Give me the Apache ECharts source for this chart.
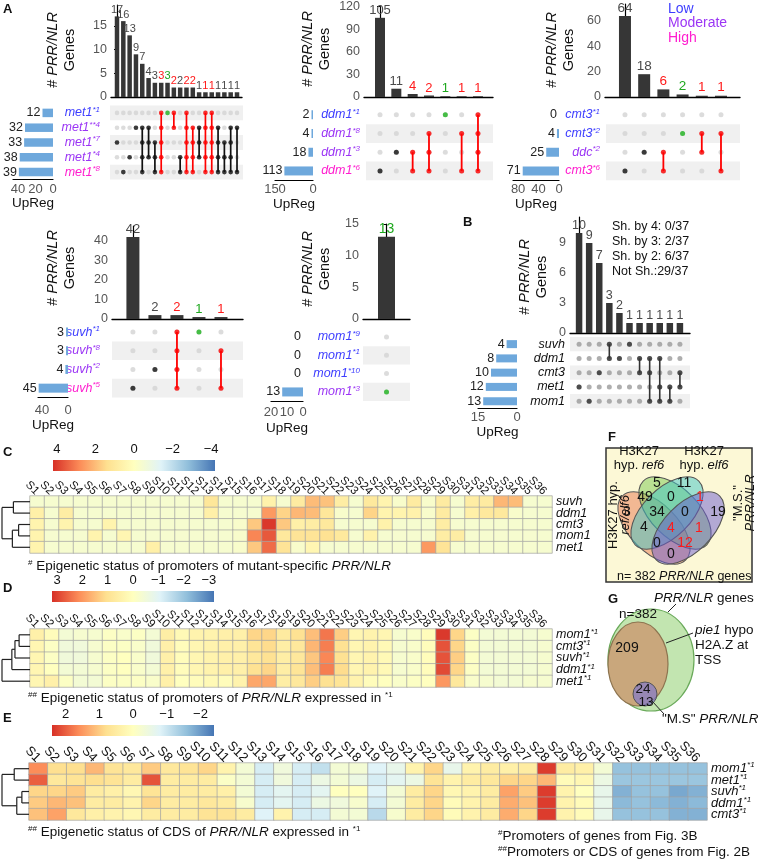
<!DOCTYPE html>
<html><head><meta charset="utf-8">
<script src="https://cdn.jsdelivr.net/npm/echarts@6/dist/echarts.min.js"></script>
<style>html,body{margin:0;padding:0;background:#fff}#c{width:758px;height:861px}</style>
</head><body><div id="c"></div>
<script>
const FONT = '"Liberation Sans", Arial, sans-serif';

// ---------------- DATA: Panel A (met1) ----------------
const a1Sets = ['met1*1','met1**4','met1*7','met1*4','met1*8'];
const a1Levels = ['low','mod','mod','mod','high'];
const a1SetSizes = [12,32,33,38,39];
const a1Counts = [17,16,13,9,7,4,3,3,3,2,2,2,2,1,1,1,1,1,1,1];
const a1Members = [[2],[4],[3],[1],[1,2,3,4],[1,2,3],[2,3,4],[0,1,2,3,4],[0],[0,1],[3,4],[0,1,2,3,4],[1,2,3,4],[1,2,3],[0,1,2,3,4],[0,1,2,3,4],[1,2,3,4],[2,3,4],[1,2,3,4],[1,4]];
const a1Types = ['k','k','k','k','k','k','k','r','g','r','k','r','r','k','r','r','k','k','k','k'];
const a1YTicks = [0,5,10,15];
const a1SetTicks = [0,20,40];
// ---------------- DATA: Panel A (ddm1) ----------------
const a2Sets = ['ddm1*1','ddm1*8','ddm1*3','ddm1*6'];
const a2Levels = ['low','mod','mod','high'];
const a2SetSizes = [2,4,18,113];
const a2Counts = [105,11,4,2,1,1,1];
const a2Members = [[3],[2],[2,3],[1,2,3],[0],[1,3],[0,1,2,3]];
const a2Types = ['k','k','r','r','g','r','r'];
const a2YTicks = [0,30,60,90,120];
const a2SetTicks = [0,150];
// ---------------- DATA: Panel A (cmt3) ----------------
const a3Sets = ['cmt3*1','cmt3*2','ddc*2','cmt3*6'];
const a3Levels = ['low','low','mod','high'];
const a3SetSizes = [0,4,25,71];
const a3Counts = [64,18,6,2,1,1];
const a3Members = [[3],[2],[2,3],[1],[1,2],[1,3]];
const a3Types = ['k','k','r','g','r','r'];
const a3YTicks = [0,20,40,60];
const a3SetTicks = [0,40,80];
// ---------------- DATA: Panel A (suvh) ----------------
const a4Sets = ['suvh*1','suvh*8','suvh*2','suvh*5'];
const a4Levels = ['low','mod','mod','high'];
const a4SetSizes = [3,3,4,45];
const a4Counts = [42,2,2,1,1];
const a4Members = [[3],[2],[0,1,2,3],[0],[1,3]];
const a4Types = ['k','k','r','g','r'];
const a4YTicks = [0,10,20,30,40];
const a4SetTicks = [0,40];
// ---------------- DATA: Panel A (mom1) ----------------
const a5Sets = ['mom1*9','mom1*1','mom1*10','mom1*3'];
const a5Levels = ['low','low','low','mod'];
const a5SetSizes = [0,0,0,13];
const a5Counts = [13];
const a5Members = [[3]];
const a5Types = ['g'];
const a5YTicks = [0,5,10,15];
const a5SetTicks = [0,10,20];
// ---------------- DATA: Panel B ----------------
const bSets = ['suvh','ddm1','cmt3','met1','mom1'];
const bLevels = ['blk','blk','blk','blk','blk'];
const bSetSizes = [4,8,10,12,13];
const bCounts = [10,9,7,3,2,1,1,1,1,1,1];
const bMembers = [[3],[4],[2],[0,1],[1],[0],[1,2],[1,2,4],[1,3,4],[3,4],[2,3]];
const bTypes = ['d','d','d','d','d','d','d','d','d','d','d'];
const bYTicks = [0,3,6,9];
const bSetTicks = [0,15];
const bNotes = ['Sh. by 4: 0/37','Sh. by 3: 2/37','Sh. by 2: 6/37','Not Sh.:29/37'];

// ---------------- DATA: Heatmaps ----------------
const sLabels = ['S1','S2','S3','S4','S5','S6','S7','S8','S9','S10','S11','S12','S13','S14','S15','S16','S17','S18','S19','S20','S21','S22','S23','S24','S25','S26','S27','S28','S29','S30','S31','S32','S33','S34','S35','S36'];
const cRows = ['suvh','ddm1','cmt3','mom1','met1'];
const cVals = [
 [-0.4,-0.4,-0.4,-0.4,-0.4,-0.4,-0.4,-0.4,-0.4,-0.4,-0.4,-0.4,1.1,-0.4,-0.4,-0.4,0.6,-0.4,0.9,2.0,1.9,0.8,-0.4,1.0,0.5,-0.3,0.9,-0.3,0.9,-0.4,0.8,0.9,2.1,2.0,-0.4,-0.4],
 [0.7,-0.4,0.8,-0.4,-0.4,-0.4,-0.4,-0.4,-0.4,-0.4,-0.4,-0.4,0.7,-0.4,-0.4,-0.4,2.6,1.6,2.1,2.0,1.1,-0.3,-0.4,1.6,0.5,0.5,0.6,-0.3,0.9,-0.4,0.7,1.0,1.0,-0.3,-0.4,-0.4],
 [0.5,-0.4,0.5,-0.4,-0.4,0.5,-0.4,-0.4,-0.4,-0.4,-0.4,-0.4,-0.4,-0.4,-0.3,1.8,4.1,1.8,0.7,0.8,1.0,-0.4,-0.4,-0.4,0.6,-0.4,-0.4,-0.4,0.8,-0.4,-0.4,-0.4,-0.4,-0.4,-0.4,-0.4],
 [0.5,-0.4,-0.4,-0.4,0.5,-0.4,0.4,-0.4,-0.4,-0.4,-0.4,-0.4,-0.4,-0.4,-0.3,2.9,3.6,1.0,1.2,1.2,1.3,1.0,-0.4,0.6,-0.4,-0.4,-0.4,-0.4,0.8,0.8,-0.4,-0.4,-0.4,-0.4,-0.4,-0.4],
 [0.5,-0.4,-0.4,-0.4,-0.4,-0.4,-0.4,-0.4,0.7,-0.4,-0.4,-0.4,-0.4,-0.4,-0.3,1.8,3.3,1.2,-0.3,0.4,-0.4,-0.4,-0.4,-0.4,-0.4,-0.4,-0.4,2.6,1.2,-0.4,-0.4,-0.4,-0.4,-0.4,-0.4,-0.4]
];
const cTicks = [4,2,0,-2,-4];
const dRows = ['mom1*1','cmt3*1','suvh*1','ddm1*1','met1*1'];
const dVals = [
 [0.5,0.1,-0.4,-0.3,-0.3,-0.1,-0.2,-0.1,-0.4,0.6,0.2,0.4,0.4,0.5,0.5,1.2,1.2,0.7,1.0,1.5,2.4,1.3,0.3,0.4,0.3,-0.3,-0.2,0.1,3.1,1.2,-0.1,-0.4,-0.4,-0.4,-0.4,-0.3],
 [0.3,-0.1,-0.5,-0.5,-0.3,-0.1,-0.1,-0.2,-0.5,0.5,0.1,0.3,0.4,0.5,0.5,0.9,1.1,0.6,0.8,1.6,2.3,1.0,0.3,0.4,0.2,-0.3,-0.2,0.1,2.8,1.2,-0.1,-0.4,-0.4,-0.4,-0.4,-0.3],
 [0.3,-0.1,-0.5,-0.5,-0.3,-0.1,0.0,-0.2,-0.5,0.5,0.1,0.3,0.4,0.5,0.5,0.8,1.0,0.6,0.8,1.4,2.2,1.0,0.3,0.4,0.2,-0.3,-0.2,0.1,2.8,1.3,-0.1,-0.4,-0.4,-0.4,-0.4,-0.3],
 [0.3,0.0,-0.4,-0.4,-0.3,-0.1,0.0,-0.2,-0.4,0.5,0.1,0.3,0.4,0.5,0.5,1.0,1.2,0.6,0.9,1.5,2.3,1.1,0.3,0.4,0.2,-0.3,-0.2,0.1,2.9,1.2,-0.1,-0.4,-0.4,-0.4,-0.4,-0.3],
 [0.3,0.5,-0.1,-0.4,-0.4,-0.1,-0.1,-0.1,-0.2,0.5,0.0,0.1,0.2,0.1,0.4,1.8,1.8,0.6,0.8,1.3,1.0,0.9,0.4,0.1,0.0,-0.2,-0.1,0.0,2.0,0.8,-0.2,-0.3,-0.4,-0.4,-0.3,-0.3]
];
const dTicks = [3,2,1,0,-1,-2,-3];
const eRows = ['mom1*1','met1*1','suvh*1','ddm1*1','cmt3*1'];
const eVals = [
 [1.6,0.8,0.8,1.2,0.7,0.6,1.0,0.6,0.7,0.9,0.3,-0.3,-0.9,-0.4,-0.9,-1.1,-0.3,-0.3,-0.8,-0.6,0.3,0.9,-0.6,0.3,0.5,0.4,0.5,2.3,0.5,0.4,-0.3,-1.55,-1.55,-1.55,-1.55,-1.55],
 [2.0,0.6,0.7,0.8,0.7,0.5,2.1,0.5,0.5,0.5,-0.1,-0.3,-0.9,-0.4,-0.9,-0.5,-0.3,-0.5,-0.9,-0.7,-0.5,0.7,0.3,0.5,0.6,0.9,0.9,1.2,0.1,0.2,-0.5,-1.5,-1.5,-1.5,-1.5,-1.5],
 [0.9,0.9,1.0,0.5,0.4,0.2,0.7,0.5,0.5,0.5,0.4,-0.3,-0.9,-0.7,-0.9,-0.7,0.0,0.0,-0.8,-0.3,0.5,0.9,0.2,0.3,0.5,1.4,1.0,2.3,0.3,0.0,-0.6,-1.75,-1.55,-1.55,-1.85,-1.75],
 [1.0,1.2,1.1,0.5,0.5,0.3,0.9,0.5,0.5,0.6,0.5,-0.2,-0.9,-0.7,-0.9,-0.5,-0.4,-0.2,-0.9,-0.3,0.5,0.9,0.1,0.3,0.5,1.3,1.1,2.3,0.3,0.1,-0.6,-1.65,-1.55,-1.65,-1.75,-1.65],
 [1.1,1.4,0.6,0.4,0.3,0.2,0.5,0.5,0.5,0.7,0.7,0.5,-0.8,0.3,-0.9,-0.9,-0.3,-0.3,-1.2,-0.2,0.5,0.9,0.1,0.3,0.5,1.3,0.9,2.3,0.3,0.1,-0.6,-1.55,-1.55,-1.55,-1.75,-1.75]
];
const eTicks = [2,1,0,-1,-2];
// dendrograms (leaf = row index, h = merge height)
const cTree = {l:{l:0,r:1,h:1.6}, r:{l:{l:2,r:3,h:1.1}, r:4, h:1.7}, h:2.7};
const dTree = {l:{l:{l:{l:0,r:1,h:1.05}, r:2, h:1.45}, r:3, h:1.75}, r:4, h:2.7};
const eTree = {l:{l:0,r:1,h:1.45}, r:{l:{l:2,r:3,h:0.7}, r:4, h:1.2}, h:2.65};
// Venn F region counts
const vennVals = [5,11,49,0,1,3,34,0,19,4,4,1,0,12,0];
const vennHot  = [0,0,0,0,1,0,0,0,0,0,1,1,0,1,0];
// G counts
const gVals = {total:382, pie1:209, ms1:24, ms2:13};

// ---------------- helpers ----------------
const PALETTE = ['#4575B4','#91BFDB','#E0F3F8','#FFFFBF','#FEE090','#FC8D59','#D73027'];
const grids=[], xAxes=[], yAxes=[], series=[], graphics=[], visualMaps=[];
function addGrid(g){ grids.push(Object.assign({containLabel:false, show:false}, g)); return grids.length-1; }
function addX(a){ xAxes.push(a); return xAxes.length-1; }
function addY(a){ yAxes.push(a); return yAxes.length-1; }
const TYPE_COL = {k:'#111111', r:'#ff0000', g:'#1fb51f', d:'#333333'};
const TYPE_LBL = {k:'#4a4a4a', r:'#ff1a1a', g:'#1fa81f', d:'#4a4a4a'};
const LVL_COL = {low:'#3d3dff', mod:'#9b35f5', high:'#ff1ecf', blk:'#111111'};
function splitSup(v){ const i=v.indexOf('*'); return i<0?[v,'']:[v.slice(0,i), v.slice(i)]; }
function makeRich(fs){
  const r={};
  for (const k in LVL_COL){
    r[k]={color:LVL_COL[k], fontStyle:'italic', fontSize:fs, fontFamily:FONT, lineHeight:fs+2};
    r[k+'S']={color:LVL_COL[k], fontStyle:'italic', fontSize:Math.round(fs*0.62), fontFamily:FONT, verticalAlign:'top', lineHeight:fs+2};
  }
  return r;
}
function rowFmt(v,lvl){ const [b,s]=splitSup(v); return s?`{${lvl}|${b}}{${lvl}S|${s}}`:`{${lvl}|${b}}`; }
function T(x,y,text,o){
  o=o||{};
  const al=o.align||'left';
  graphics.push({type:'text', x, y, rotation:o.rot||0, z:100, silent:true,
    style:Object.assign({text, fill:'#111', fontSize:13, fontFamily:FONT, align:al, verticalAlign:'middle', textAlign:al, textVerticalAlign:'middle'}, o.style||{})});
}
function richG(fs){
  return {n:{fontSize:fs, fontFamily:FONT, fill:'#111'}, i:{fontSize:fs, fontFamily:FONT, fill:'#111', fontStyle:'italic'},
          s:{fontSize:Math.round(fs*0.6), fontFamily:FONT, fill:'#111', verticalAlign:'top'},
          r:{fontSize:fs, fontFamily:FONT, fill:'#ff1a1a'}};
}

function upset(o){
  const n=o.counts.length, nr=o.sets.length;
  // bars
  const gb=addGrid({left:o.x0, top:o.barTop, width:o.x1-o.x0, height:o.barBottom-o.barTop});
  const xb=addX({type:'value', gridIndex:gb, min:o.cmin, max:o.cmax, axisLine:{show:true, onZero:false, lineStyle:{color:'#000', width:1.4}}, axisTick:{show:false}, axisLabel:{show:false}, splitLine:{show:false}});
  const yb=addY({type:'value', gridIndex:gb, min:0, max:o.ymax, axisLine:{show:true, lineStyle:{color:'#000', width:1.2}}, axisTick:{show:true, length:3, customValues:o.yticks, lineStyle:{color:'#000'}}, axisLabel:{customValues:o.yticks, fontSize:12.5, color:'#555', fontFamily:FONT, margin:4}, splitLine:{show:false}});
  series.push({type:'bar', xAxisIndex:xb, yAxisIndex:yb, barWidth:o.barW, silent:true,
    data:o.counts.map((v,i)=>({value:[i,v], label:{color:TYPE_LBL[o.types[i]]}})),
    itemStyle:{color:'#363636'}, label:{show:true, position:'top', distance:1, fontSize:o.cntFs, fontFamily:FONT, formatter:p=>p.value[1]}});
  // matrix
  const gm=addGrid({left:o.x0, top:o.matTop, width:o.x1-o.x0, height:o.matH});
  const xm=addX({type:'value', gridIndex:gm, min:o.cmin, max:o.cmax, show:false});
  const ym=addY({type:'category', gridIndex:gm, data:o.sets, inverse:true, axisLine:{show:false}, axisTick:{show:false}, splitLine:{show:false},
    axisLabel:{interval:0, margin:o.lblMargin, formatter:(v,i)=>rowFmt(v,o.levels[i]), rich:makeRich(12.5)}});
  const shadeRows=[]; for(let r=0;r<nr;r++){ if((nr-1-r)%2===0) shadeRows.push([0,r]); }
  series.push({type:'custom', xAxisIndex:xm, yAxisIndex:ym, silent:true, z:1, data:shadeRows,
    renderItem:(p,api)=>{ const cs=p.coordSys; const c=api.coord([0,api.value(1)]); const h=api.size([0,1])[1];
      return {type:'rect', shape:{x:cs.x+o.shadeL, y:c[1]-h/2, width:cs.width-o.shadeL+o.shadeR, height:h}, style:{fill:o.shade}}; }});
  const grey=[]; for(let c=0;c<n;c++) for(let r=0;r<nr;r++) grey.push([c,r]);
  series.push({type:'scatter', xAxisIndex:xm, yAxisIndex:ym, silent:true, z:2, symbolSize:o.dot, data:grey, itemStyle:{color:o.grey}});
  const lines=[]; o.members.forEach((m,c)=>{ if(m.length>1) lines.push({c, lo:Math.min(...m), hi:Math.max(...m), t:o.types[c]}); });
  series.push({type:'custom', xAxisIndex:xm, yAxisIndex:ym, silent:true, z:3, data:lines.map(l=>[l.c,l.lo,l.hi]),
    renderItem:(p,api)=>{ const a=api.coord([api.value(0),api.value(1)]), b=api.coord([api.value(0),api.value(2)]);
      return {type:'line', shape:{x1:a[0],y1:a[1],x2:b[0],y2:b[1]}, style:{stroke:TYPE_COL[lines[p.dataIndex].t], lineWidth:o.lw}}; }});
  const mem=[]; o.members.forEach((m,c)=>m.forEach(r=>mem.push({value:[c,r], itemStyle:{color:TYPE_COL[o.types[c]]}})));
  series.push({type:'scatter', xAxisIndex:xm, yAxisIndex:ym, silent:true, z:4, symbolSize:o.dot, data:mem});
  // set sizes
  const gs=addGrid({left:o.sx0, top:o.matTop, width:o.sx1-o.sx0, height:o.matH});
  const xs=addX({type:'value', gridIndex:gs, inverse:true, min:0, max:o.smax, axisLine:{show:true, onZero:false, lineStyle:{color:'#000', width:1.2}}, axisTick:{show:false}, splitLine:{show:false},
    axisLabel:{customValues:o.sticks, fontSize:13, color:'#555', fontFamily:FONT, margin:o.sLblMargin},
    name:'UpReg', nameLocation:'middle', nameGap:o.nameGap, nameTextStyle:{fontSize:13.5, color:'#111', fontFamily:FONT}});
  const ys=addY({type:'category', gridIndex:gs, data:o.sets, inverse:true, show:false});
  series.push({type:'bar', xAxisIndex:xs, yAxisIndex:ys, silent:true, barWidth:o.setBarW, barMinHeight:1.5, data:o.setSizes,
    itemStyle:{color:'#6ea8dc'}, label:{show:true, position:'left', distance:2, fontSize:12.5, color:'#222', fontFamily:FONT}});
  // title
  T(o.title[0], o.title[1], '{n|# }{i|PRR/NLR}\n{n|Genes}', {align:'center', rot:Math.PI/2,
    style:{rich:{n:{fontSize:14.5, fontFamily:FONT, fill:'#111', lineHeight:17}, i:{fontSize:14.5, fontFamily:FONT, fill:'#111', fontStyle:'italic', lineHeight:17}}}});
}

function dendroSegs(node){
  if (typeof node==='number') return {y:node, h:0, segs:[]};
  const L=dendroSegs(node.l), R=dendroSegs(node.r);
  const segs=L.segs.concat(R.segs);
  segs.push([L.h,L.y,node.h,L.y],[R.h,R.y,node.h,R.y],[node.h,L.y,node.h,R.y]);
  return {y:(L.y+R.y)/2, h:node.h, segs};
}

function heat(o){
  const g=addGrid({left:o.left, top:o.top, width:o.width, height:o.height});
  const x=addX({type:'category', gridIndex:g, data:sLabels, position:'top', axisLine:{show:false}, axisTick:{show:false}, splitLine:{show:false},
    axisLabel:{interval:0, rotate:45, fontSize:o.sFs, color:'#111', fontFamily:FONT, margin:3}});
  const y=addY({type:'category', gridIndex:g, data:o.rows, inverse:true, position:'right', axisLine:{show:false}, axisTick:{show:false}, splitLine:{show:false},
    axisLabel:{interval:0, margin:4, formatter:v=>rowFmt(v,'blk'), rich:makeRich(o.rFs)}});
  const data=[]; o.vals.forEach((row,r)=>row.forEach((v,c)=>data.push([c,r,v])));
  series.push({type:'heatmap', xAxisIndex:x, yAxisIndex:y, data, silent:true, itemStyle:{borderColor:'#a3a3a3', borderWidth:0.7}});
  visualMaps.push({type:'continuous', show:false, min:-o.range, max:o.range, seriesIndex:series.length-1, dimension:2, inRange:{color:PALETTE}});
  // colour bar
  const gc=addGrid({left:o.cb[0], top:o.cb[1], width:o.cb[2], height:o.cb[3]});
  const xc=addX({type:'value', gridIndex:gc, min:-o.range, max:o.range, inverse:true, position:'top', axisLine:{show:false}, axisTick:{show:false}, splitLine:{show:false},
    axisLabel:{customValues:o.ticks, fontSize:13, color:'#111', fontFamily:FONT, margin:4, formatter:v=>v<0?'\u2212'+(-v):String(v)}});
  const yc=addY({type:'value', gridIndex:gc, min:0, max:1, show:false});
  const stops=PALETTE.slice().reverse().map((c,i,a)=>({offset:i/(a.length-1), color:c}));
  series.push({type:'custom', xAxisIndex:xc, yAxisIndex:yc, silent:true, data:[[o.range,1,-o.range,0]],
    renderItem:(p,api)=>{ const a=api.coord([api.value(0),api.value(1)]), b=api.coord([api.value(2),api.value(3)]);
      return {type:'rect', shape:{x:a[0],y:a[1],width:b[0]-a[0],height:b[1]-a[1]}, style:{fill:new echarts.graphic.LinearGradient(0,0,1,0,stops)}}; }});
  // dendrogram
  const D=dendroSegs(o.tree);
  const gd=addGrid({left:2, top:o.top, width:o.left-2, height:o.height});
  const xd=addX({type:'value', gridIndex:gd, min:0, max:o.tree.h, inverse:true, show:false});
  const yd=addY({type:'value', gridIndex:gd, min:-0.5, max:o.rows.length-0.5, inverse:true, show:false});
  series.push({type:'custom', xAxisIndex:xd, yAxisIndex:yd, silent:true, data:D.segs,
    renderItem:(p,api)=>{ const a=api.coord([api.value(0),api.value(1)]), b=api.coord([api.value(2),api.value(3)]);
      return {type:'line', shape:{x1:a[0],y1:a[1],x2:b[0],y2:b[1]}, style:{stroke:'#222', lineWidth:1.2}}; }});
}

// ---------------- build panels ----------------
upset({sets:a1Sets, levels:a1Levels, setSizes:a1SetSizes, counts:a1Counts, members:a1Members, types:a1Types,
  x0:111, x1:242, cmin:-0.95, cmax:19.79, barTop:5, barBottom:97, ymax:19.4, yticks:a1YTicks, barW:4.5, cntFs:11,
  matTop:105.5, matH:74, dot:4.6, lw:1.7, shadeL:-1, shadeR:1, grey:'#d3d3d3', shade:'#f0f0f0',
  sx0:13, sx1:53, smax:45.7, sticks:a1SetTicks, setBarW:8.5, sLblMargin:3, nameGap:16, lblMargin:11, title:[61,50]});
upset({sets:a2Sets, levels:a2Levels, setSizes:a2SetSizes, counts:a2Counts, members:a2Members, types:a2Types,
  x0:364, x1:493, cmin:-0.98, cmax:6.92, barTop:5, barBottom:97, ymax:120, yticks:a2YTicks, barW:10, cntFs:13,
  matTop:105.5, matH:74.8, dot:5, lw:1.8, shadeL:2, shadeR:0, grey:'#d3d3d3', shade:'#f0f0f0',
  sx0:275, sx1:313, smax:150, sticks:a2SetTicks, setBarW:9, sLblMargin:3, nameGap:16, lblMargin:4, title:[316,49]});
upset({sets:a3Sets, levels:a3Levels, setSizes:a3SetSizes, counts:a3Counts, members:a3Members, types:a3Types,
  x0:605, x1:740, cmin:-1.04, cmax:5.99, barTop:4, barBottom:97, ymax:73.4, yticks:a3YTicks, barW:12, cntFs:13.5,
  matTop:105.5, matH:74.8, dot:5, lw:1.8, shadeL:1, shadeR:0, grey:'#d3d3d3', shade:'#f0f0f0',
  sx0:513, sx1:559, smax:90, sticks:a3SetTicks, setBarW:9, sLblMargin:3, nameGap:16, lblMargin:5, title:[560,50]});
upset({sets:a4Sets, levels:a4Levels, setSizes:a4SetSizes, counts:a4Counts, members:a4Members, types:a4Types,
  x0:112, x1:243, cmin:-0.95, cmax:5.0, barTop:226, barBottom:319, ymax:47.7, yticks:a4YTicks, barW:13, cntFs:13,
  matTop:322.7, matH:74.8, dot:5, lw:1.8, shadeL:0, shadeR:0, grey:'#d3d3d3', shade:'#f0f0f0',
  sx0:38, sx1:68, smax:46, sticks:a4SetTicks, setBarW:9, sLblMargin:6, nameGap:21, lblMargin:12, title:[61,268]});
upset({sets:a5Sets, levels:a5Levels, setSizes:a5SetSizes, counts:a5Counts, members:a5Members, types:a5Types,
  x0:363, x1:410, cmin:-0.5, cmax:0.5, barTop:224, barBottom:319, ymax:15, yticks:a5YTicks, barW:17, cntFs:14,
  matTop:327.8, matH:73.3, dot:5, lw:1.8, shadeL:0, shadeR:0, grey:'#d3d3d3', shade:'#f0f0f0',
  sx0:271, sx1:303, smax:20, sticks:a5SetTicks, setBarW:9, sLblMargin:5, nameGap:20, lblMargin:3, title:[316,269]});
upset({sets:bSets, levels:bLevels, setSizes:bSetSizes, counts:bCounts, members:bMembers, types:bTypes,
  x0:570, x1:690, cmin:-0.9, cmax:11.0, barTop:217, barBottom:333, ymax:11.6, yticks:bYTicks, barW:6.5, cntFs:12.5,
  matTop:337, matH:71.3, dot:5, lw:1.6, shadeL:0, shadeR:0, grey:'#9a9a9a', shade:'#f0f0f0',
  sx0:478, sx1:517, smax:15, sticks:bSetTicks, setBarW:8, sLblMargin:3, nameGap:17, lblMargin:5, title:[533,277]});

heat({left:30, top:496, width:522, height:57, rows:cRows, vals:cVals, range:4.2, ticks:cTicks, sFs:11.5, rFs:12.5, cb:[53,460,162,11], tree:cTree});
heat({left:30, top:629, width:522, height:58, rows:dRows, vals:dVals, range:3.2, ticks:dTicks, sFs:11.5, rFs:12.5, cb:[52,591,162,11], tree:dTree});
heat({left:29, top:763, width:678, height:57, rows:eRows, vals:eVals, range:2.4, ticks:eTicks, sFs:13, rFs:13, cb:[52,725,162,11], tree:eTree});

// ---------------- text / annotations ----------------
const bold={fontWeight:'bold', fontSize:13};
T(3,9,'A',{style:bold}); T(463,222,'B',{style:bold}); T(3,452,'C',{style:bold});
T(3,588,'D',{style:bold}); T(3,718,'E',{style:bold}); T(608,437,'F',{style:bold}); T(608,599,'G',{style:bold});
T(668,9,'Low',{style:{fill:LVL_COL.low, fontSize:14}});
T(668,23,'Moderate',{style:{fill:LVL_COL.mod, fontSize:14}});
T(668,38,'High',{style:{fill:LVL_COL.high, fontSize:14}});
bNotes.forEach((t,i)=>T(612,227+15*i,t,{style:{fontSize:12.5}}));
T(28,566,'{s|#}{n| Epigenetic status of promoters of mutant-specific }{i|PRR/NLR}',{style:{rich:richG(13.5)}});
T(28,698,'{s|##}{n| Epigenetic status of promoters of }{i|PRR/NLR}{n| expressed in }{s|*1}',{style:{rich:richG(13.5)}});
T(28,832,'{s|##}{n| Epigenetic status of CDS of }{i|PRR/NLR}{n| expressed in }{s|*1}',{style:{rich:richG(13.5)}});
T(498,836,'{s|#}{n|Promoters of genes from Fig. 3B}',{style:{rich:richG(13.5)}});
T(498,852,'{s|##}{n|Promoters or CDS of genes from Fig. 2B}',{style:{rich:richG(13.5)}});

// ---------------- F: Venn ----------------
graphics.push({type:'rect', z:10, silent:true, shape:{x:606,y:448,width:146,height:134}, style:{fill:'#fcf8d6', stroke:'#333', lineWidth:1.5}});
const vennShapes=[
  {cx:654, cy:528, rot:-Math.PI/4, fill:'rgba(232,120,80,0.5)'},
  {cx:675, cy:513, rot:-Math.PI/4, fill:'rgba(120,200,80,0.5)'},
  {cx:667, cy:513, rot: Math.PI/4, fill:'rgba(60,195,200,0.5)'},
  {cx:688, cy:528, rot: Math.PI/4, fill:'rgba(105,90,210,0.5)'}
];
vennShapes.forEach(s=>graphics.push({type:'ellipse', z:11, silent:true, x:s.cx, y:s.cy, rotation:s.rot, shape:{cx:0,cy:0,rx:45,ry:24}, style:{fill:s.fill, stroke:'#555', lineWidth:1}}));
const vennPos=[[657,483],[684,483],[645,497],[671,497],[700,497],[627,512],[657,512],[685,512],[718,512],[644,527],[671,528],[699,528],[657,543],[685,543],[671,554]];
vennVals.forEach((v,i)=>T(vennPos[i][0],vennPos[i][1],String(v),{align:'center',style:{fontSize:14, fill:vennHot[i]?'#ff1a1a':'#111'}}));
const rg=richG(13);
T(639,451,'H3K27',{align:'center'}); T(639,465,'{n|hyp. }{i|ref6}',{align:'center',style:{rich:rg}});
T(704,451,'H3K27',{align:'center'}); T(704,465,'{n|hyp. }{i|elf6}',{align:'center',style:{rich:rg}});
T(619,515,'{n|H3K27 hyp.}\n{i|ref/elf6}',{align:'center',rot:Math.PI/2,style:{rich:{n:{fontSize:13,fontFamily:FONT,fill:'#111',lineHeight:12},i:{fontSize:13,fontFamily:FONT,fill:'#111',fontStyle:'italic',lineHeight:12}}}});
T(744,503,'{n|"M.S."}\n{i|PRR/NLR}',{align:'center',rot:Math.PI/2,style:{rich:{n:{fontSize:13,fontFamily:FONT,fill:'#111',lineHeight:12},i:{fontSize:13,fontFamily:FONT,fill:'#111',fontStyle:'italic',lineHeight:12}}}});
T(617,577,'{n|n= '+gVals.total+' }{i|PRR/NLR}{n| genes}',{style:{rich:richG(12.5)}});

// ---------------- G: nested circles ----------------
graphics.push({type:'ellipse', z:10, silent:true, shape:{cx:651,cy:660,rx:43,ry:51}, style:{fill:'#c2e5b0', stroke:'#6aaa5a', lineWidth:1.2}});
graphics.push({type:'ellipse', z:11, silent:true, shape:{cx:638,cy:664,rx:30,ry:42}, style:{fill:'#c9a77c', stroke:'#8d7450', lineWidth:1.2}});
graphics.push({type:'circle', z:12, silent:true, shape:{cx:645,cy:694,r:12}, style:{fill:'rgba(110,110,225,0.55)', stroke:'#555', lineWidth:1}});
graphics.push({type:'line', z:13, silent:true, shape:{x1:668,y1:612,x2:676,y2:604}, style:{stroke:'#222', lineWidth:1}});
graphics.push({type:'line', z:13, silent:true, shape:{x1:666,y1:643,x2:693,y2:633}, style:{stroke:'#222', lineWidth:1}});
graphics.push({type:'line', z:13, silent:true, shape:{x1:652,y1:701,x2:664,y2:714}, style:{stroke:'#222', lineWidth:1}});
const rg2=richG(13.5);
T(654,598,'{i|PRR/NLR}{n| genes}',{style:{rich:rg2}});
T(619,614,'n='+gVals.total,{style:{fontSize:13.5}});
T(627,648,String(gVals.pie1),{align:'center',style:{fontSize:14}});
T(695,630,'{i|pie1}{n| hypo}',{style:{rich:rg2}});
T(695,645,'H2A.Z at',{style:{fontSize:13.5}});
T(695,660,'TSS',{style:{fontSize:13.5}});
T(643,689,String(gVals.ms1),{align:'center',style:{fontSize:13.5}});
T(646,702,String(gVals.ms2),{align:'center',style:{fontSize:13.5}});
T(662,719,'{n|"M.S" }{i|PRR/NLR}',{style:{rich:rg2}});

const chart=echarts.init(document.getElementById('c'),null,{renderer:'canvas'});
chart.setOption({animation:false, backgroundColor:'#fff', textStyle:{fontFamily:FONT},
  grid:grids, xAxis:xAxes, yAxis:yAxes, series, visualMap:visualMaps, graphic:{elements:graphics}});
</script></body></html>
